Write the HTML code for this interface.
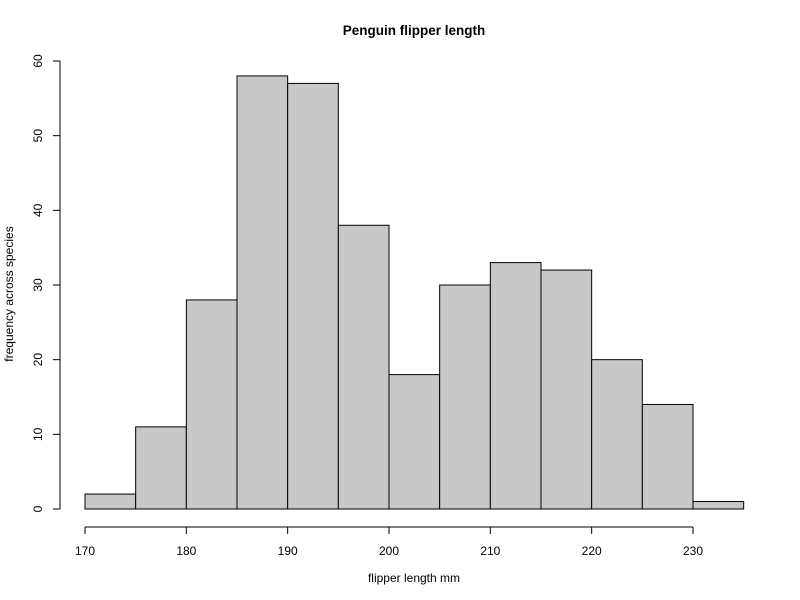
<!DOCTYPE html>
<html><head><meta charset="utf-8"><style>body{margin:0;background:#fff}svg{display:block}text{font-family:"Liberation Sans",Arial,sans-serif;fill:#000}</style></head>
<body>
<svg id="chart" width="800" height="600" xmlns="http://www.w3.org/2000/svg">
<text x="414" y="35" text-anchor="middle" font-size="13.5" font-weight="bold">Penguin flipper length</text>
<text x="414" y="582" text-anchor="middle" font-size="12">flipper length mm</text>
<text transform="translate(13,294) rotate(-90)" text-anchor="middle" font-size="12">frequency across species</text>
<g id="bars"></g>
<g id="xaxis"></g>
<g id="yaxis"></g>
</svg>
<script>
const binStarts=[170,175,180,185,190,195,200,205,210,215,220,225,230];
const counts=[2,11,28,58,57,38,18,30,33,32,20,14,1];
const binWidth=5;
const xTicks=[170,180,190,200,210,220,230];
const yTicks=[0,10,20,30,40,50,60];
const NS="http://www.w3.org/2000/svg";
const x=v=>85+(v-170)*(693-85)/60;
const y=v=>509-v*(509-61)/60;
function mk(t,a,p){const e=document.createElementNS(NS,t);for(const k in a)e.setAttribute(k,a[k]);p.appendChild(e);return e;}
const bars=document.getElementById('bars');
binStarts.forEach((b,i)=>{
 const r=mk('rect',{x:x(b),y:y(counts[i]),width:x(b+binWidth)-x(b),height:y(0)-y(counts[i]),fill:'#c8c8c8',stroke:'#000','stroke-width':1},bars);
 
 
});
const xa=document.getElementById('xaxis');
mk('line',{x1:x(xTicks[0]),x2:x(xTicks[xTicks.length-1]),y1:527,y2:527,stroke:'#000'},xa);
xTicks.forEach(t=>{
 mk('line',{x1:x(t),x2:x(t),y1:527,y2:534,stroke:'#000'},xa);
 const l=mk('text',{x:x(t),y:555,'text-anchor':'middle','font-size':12},xa);l.textContent=t;
 
 
});
const ya=document.getElementById('yaxis');
mk('line',{x1:60,x2:60,y1:y(yTicks[0]),y2:y(yTicks[yTicks.length-1]),stroke:'#000'},ya);
yTicks.forEach(t=>{
 mk('line',{x1:53,x2:60,y1:y(t),y2:y(t),stroke:'#000'},ya);
 const l=mk('text',{transform:`translate(42,${y(t)}) rotate(-90)`,'text-anchor':'middle','font-size':12},ya);l.textContent=t;
 
 
});
</script>
</body></html>
